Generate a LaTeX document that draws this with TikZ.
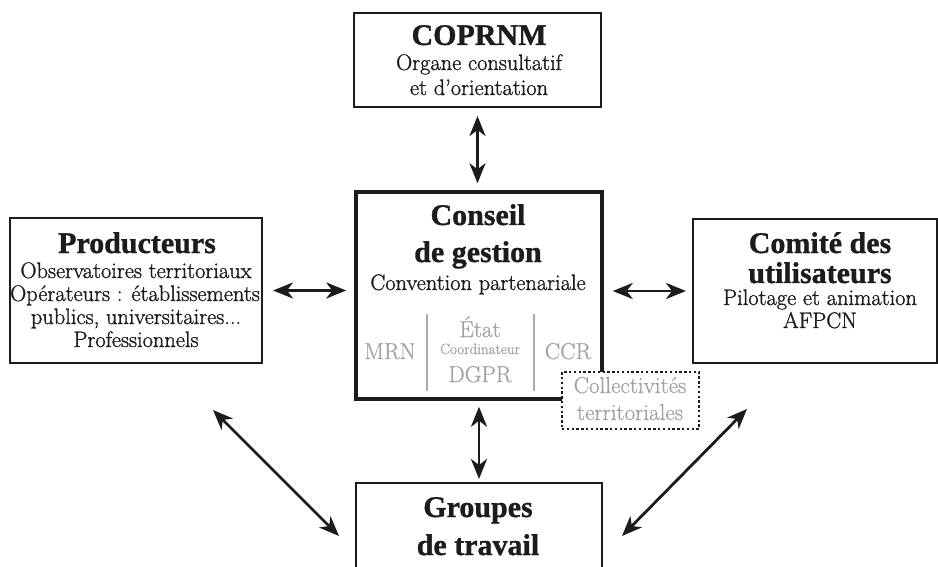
\documentclass[tikz,border=0pt]{standalone}
\usepackage{fontspec}
\usetikzlibrary{arrows.meta}
\newfontfamily\bodyf{Latin Modern Roman}[FakeBold=1.2]
\newfontfamily\grayf{Latin Modern Roman}[FakeBold=0.6]
\newfontfamily\titlef{Liberation Serif}[BoldFeatures={FakeBold=1}]
\definecolor{ink}{HTML}{1C1C1C}
\definecolor{grayt}{HTML}{A0A1A8}
\definecolor{grayl}{HTML}{AAAAB2}
\begin{document}
\begin{tikzpicture}[x=1pt,y=-1pt,
  box/.style={draw=ink, line width=2pt, fill=white, inner sep=0pt},
  thickbox/.style={box, line width=3.5pt},
  dotbox/.style={draw=ink, line width=2.4pt, dash pattern=on 2.4pt off 2.4pt, fill=white, inner sep=0pt},
  ttl/.style={font=\titlef\bfseries\fontsize{30}{30}\selectfont, text=ink, anchor=base, inner sep=0pt},
  bdy/.style={font=\bodyf\fontsize{22.4}{22.4}\selectfont, text=ink, anchor=base, inner sep=0pt},
  gry/.style={font=\grayf\fontsize{23}{23}\selectfont, text=grayt, anchor=base, inner sep=0pt},
  grysmall/.style={gry, font=\grayf\fontsize{15}{15}\selectfont},
  tip/.tip={Stealth[length=20pt,width=16pt,inset=6pt]},
  arr/.style={draw=ink, line width=2.8pt, tip-tip}
]
\useasboundingbox (0,0) rectangle (938,567);
\clip (0,0) rectangle (938,567);
\fill[white] (0,0) rectangle (938,567);

% boxes
\node[box, minimum width=252pt, minimum height=145pt] (prod) at (136,290.5) {};
\node[thickbox, minimum width=246pt, minimum height=207pt] (conseil) at (479,295.5) {};
\node[box, minimum width=247pt, minimum height=94pt] (coprnm) at (477.5,60) {};
\node[box, minimum width=244pt, minimum height=144pt] (comite) at (815,291) {};
\node[box, minimum width=246pt, minimum height=117pt] (groupes) at (479,541.5) {};
\node[dotbox, minimum width=137pt, minimum height=57pt] (coll) at (630.5,400.5) {};

% COPRNM
\node[ttl] (t1) at (479,45) {COPRNM};
\node[bdy] (t2) at (479,70) {Organe consultatif};
\node[bdy] (t3) at (479,95) {et d’orientation};

% Producteurs
\node[ttl] (p1) at (137,253) {Producteurs};
\node[bdy] (p2) at (136,278) {Observatoires territoriaux};
\node[bdy] (p3) at (135,301) {Opérateurs : établissements};
\node[bdy] (p4) at (136,324) {publics, universitaires...};
\node[bdy] (p5) at (136,347) {Professionnels};

% Conseil
\node[ttl] (c1) at (478,225) {Conseil};
\node[ttl] (c2) at (478,262) {de gestion};
\node[bdy] (c3) at (478,290) {Convention partenariale};
\node[gry] (mrn) at (390,359) {MRN};
\node[gry] (etat) at (480,337) {État};
\node[grysmall] (coord) at (480,354) {Coordinateur};
\node[gry] (dgpr) at (480,382) {DGPR};
\node[gry] (ccr) at (568,359) {CCR};
\draw[grayl, line width=1.4pt] (427,314) -- (427,391);
\draw[grayl, line width=1.4pt] (534,314) -- (534,391);

% Collectivites
\node[gry] (k1) at (630,393) {Collectivités};
\node[gry] (k2) at (630,420) {territoriales};

% Comite
\node[ttl] (u1) at (820,253) {Comité des};
\node[ttl] (u2) at (820,283) {utilisateurs};
\node[bdy] (u3) at (820,305) {Pilotage et animation};
\node[bdy] (u4) at (820,328) {AFPCN};

% Groupes
\node[ttl] (g1) at (478,517) {Groupes};
\node[ttl] (g2) at (478,555) {de travail};

% connectors
\draw[arr, shorten <=8pt, shorten >=7pt] (coprnm.south) -- (coprnm.south |- conseil.north);
\draw[arr, shorten <=10pt, shorten >=8pt] (prod.east) -- (prod.east -| conseil.west);
\draw[arr, shorten <=9pt, shorten >=6pt] (comite.west -| conseil.east) -- (comite.west);
\draw[arr, shorten <=6pt, shorten >=3pt] (conseil.south) -- (conseil.south |- groupes.north);
\draw[arr] ([shift={(-50,46)}]prod.south east) -- ([shift={(-16,54)}]groupes.north west);
\draw[arr] ([shift={(55,45)}]comite.south west) -- ([shift={(19,54)}]groupes.north east);
\end{tikzpicture}
\end{document}
